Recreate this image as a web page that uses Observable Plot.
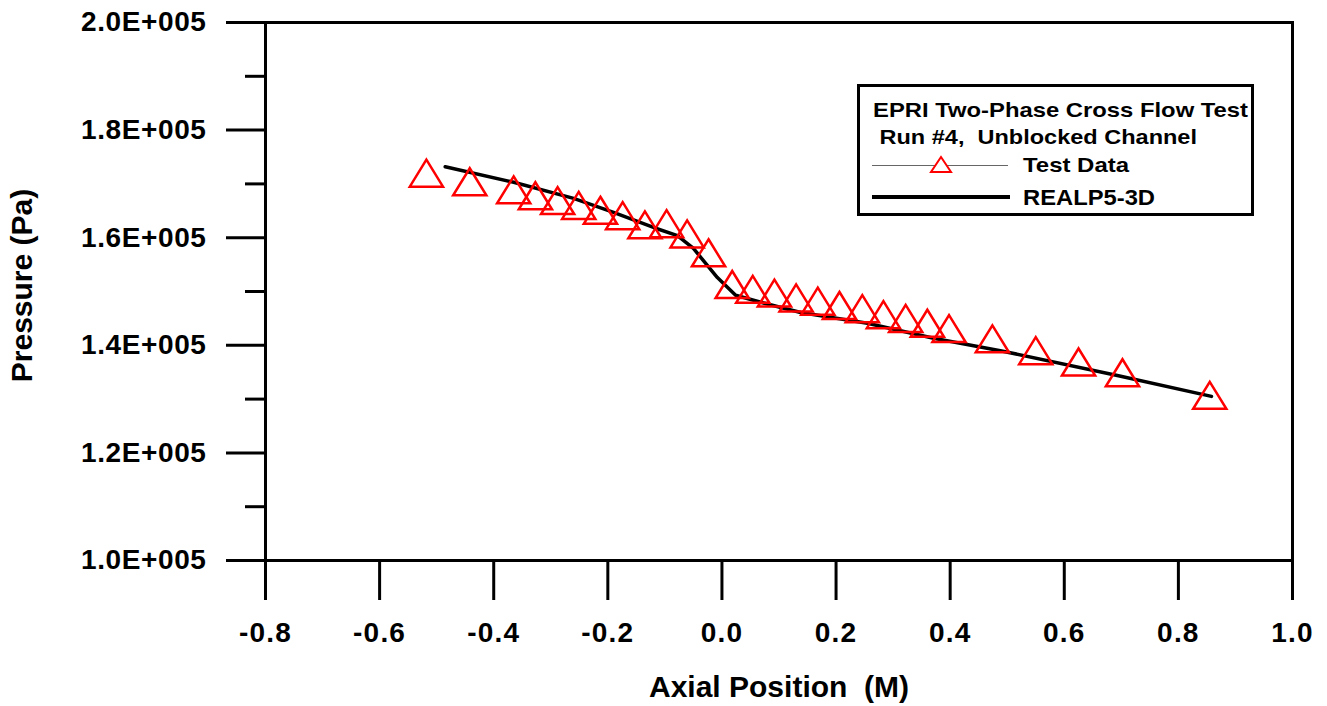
<!DOCTYPE html>
<html><head><meta charset="utf-8">
<script src="https://cdn.jsdelivr.net/npm/d3@7"></script>
<script src="https://cdn.jsdelivr.net/npm/@observablehq/plot@0.6"></script>
<style>
body{margin:0;background:#fff;}
#wrap{position:relative;width:1327px;height:706px;font-family:"Liberation Sans",Arial,sans-serif;}
#legend{position:absolute;left:0;top:0;pointer-events:none;}
#wrap g[aria-label="y-axis tick label"] text{letter-spacing:0.6px;}
#wrap g[aria-label="x-axis tick label"] text{letter-spacing:1.2px;}
</style></head><body><div id="wrap"></div>
<script>
// Test data (triangles)
const testX = [-0.518,-0.442,-0.365,-0.327,-0.288,-0.251,-0.213,-0.174,-0.135,-0.097,-0.061,-0.0235,0.018,0.054,0.092,0.130,0.168,0.206,0.246,0.283,0.322,0.360,0.398,0.474,0.550,0.625,0.702,0.855];
const testP = [172000,170400,168900,167800,166900,166000,165100,164100,162400,162600,160700,157200,151300,150400,149700,148800,148200,147400,146800,145700,145000,144100,143100,141200,139000,136900,134900,130700];
// REALP5-3D calculation (line)
const calcX = [-0.485,-0.365,-0.26,-0.19,-0.12,-0.078,-0.05,-0.008,0.024,0.068,0.138,0.255,0.371,0.488,0.693,0.858];
const calcP = [173200,170300,167300,164700,161900,160400,158000,152600,149300,148000,146100,144100,141300,139000,134400,130500];
const xTicks = [-0.8,-0.6,-0.4,-0.2,0.0,0.2,0.4,0.6,0.8,1.0];
const yTicks = [100000,120000,140000,160000,180000,200000];
const yMinor = [110000,130000,150000,170000,190000];
const xLabel = "Axial Position  (M)";
const yLabel = "Pressure (Pa)";
const legendTitle = ["EPRI Two-Phase Cross Flow Test", " Run #4,  Unblocked Channel"];
const seriesNames = ["Test Data", "REALP5-3D"];

const test = testX.map((x,i)=>({x, p:testP[i]}));
const calc = calcX.map((x,i)=>({x, p:calcP[i]}));

const triSym = {draw(ctx, size){ const r=Math.sqrt(size/Math.PI); const hw=r*1.23, hh=r*1.0;
  ctx.moveTo(0,-hh); ctx.lineTo(hw,hh); ctx.lineTo(-hw,hh); ctx.closePath(); }};

const chart = Plot.plot({
  width:1327, height:706, marginLeft:265, marginRight:35, marginTop:22, marginBottom:146,
  x:{domain:[-0.8,1.0]}, y:{domain:[100000,200000]},
  style:{fontFamily:"'Liberation Sans', Arial, sans-serif", fontWeight:"bold", fontSize:"28px", color:"#000", background:"#fff", overflow:"visible"},
  marks:[
    Plot.axisY({ticks:yTicks, tickSize:39, tickPadding:20, tickFormat:d=>(d/100000).toFixed(1)+"E+005", strokeWidth:3, label:null, fontSize:28, fontWeight:"bold"}),
    Plot.axisY({ticks:yMinor, tickSize:20, tickFormat:()=>"", strokeWidth:3, label:null}),
    Plot.axisX({ticks:xTicks, tickSize:40, tickPadding:22, tickFormat:d=>d.toFixed(1), strokeWidth:3, label:null, fontSize:28, fontWeight:"bold"}),
    Plot.frame({strokeWidth:3, stroke:"#000"}),
    Plot.line(calc, {x:"x", y:"p", stroke:"#000", strokeWidth:3.5}),
    Plot.dot(test, {x:"x", y:"p", symbol:triSym, r:13.5, stroke:"#ff0000", strokeWidth:2.5, fill:"none"}),
    Plot.text([xLabel], {frameAnchor:"bottom", dy:127, lineAnchor:"middle", textAnchor:"middle", fontSize:30, fontWeight:"bold"}),
    Plot.text([yLabel], {frameAnchor:"left", rotate:-90, dx:-243, dy:-6, textAnchor:"middle", lineAnchor:"middle", fontSize:30, fontWeight:"bold"})
  ]
});
const wrap = document.getElementById("wrap");
wrap.appendChild(chart);

// Legend overlay
const lg = d3.select(wrap).append("svg").attr("id","legend").attr("width",1327).attr("height",706)
  .style("font-family","'Liberation Sans', Arial, sans-serif").style("font-weight","bold");
lg.append("rect").attr("x",858.5).attr("y",85.5).attr("width",394).attr("height",129)
  .attr("fill","#fff").attr("stroke","#000").attr("stroke-width",3);
const txt = (s,x,y,fs,len)=>lg.append("text").attr("x",x).attr("y",y).attr("font-size",fs)
  .attr("textLength",len).attr("lengthAdjust","spacingAndGlyphs").attr("xml:space","preserve").text(s);
txt(legendTitle[0],873,117,21,375);
txt(legendTitle[1],873,144,21,324);
txt(seriesNames[0],1023,172,21,106);
txt(seriesNames[1],1023,205,22,132);
lg.append("line").attr("x1",872).attr("x2",1008).attr("y1",165.5).attr("y2",165.5).attr("stroke","#666").attr("stroke-width",1.2);
lg.append("path").attr("d","M941,157L951,172L931,172Z").attr("fill","#fff").attr("stroke","#ff0000").attr("stroke-width",2);
lg.append("line").attr("x1",872).attr("x2",1010).attr("y1",197).attr("y2",197).attr("stroke","#000").attr("stroke-width",4);
</script></body></html>
